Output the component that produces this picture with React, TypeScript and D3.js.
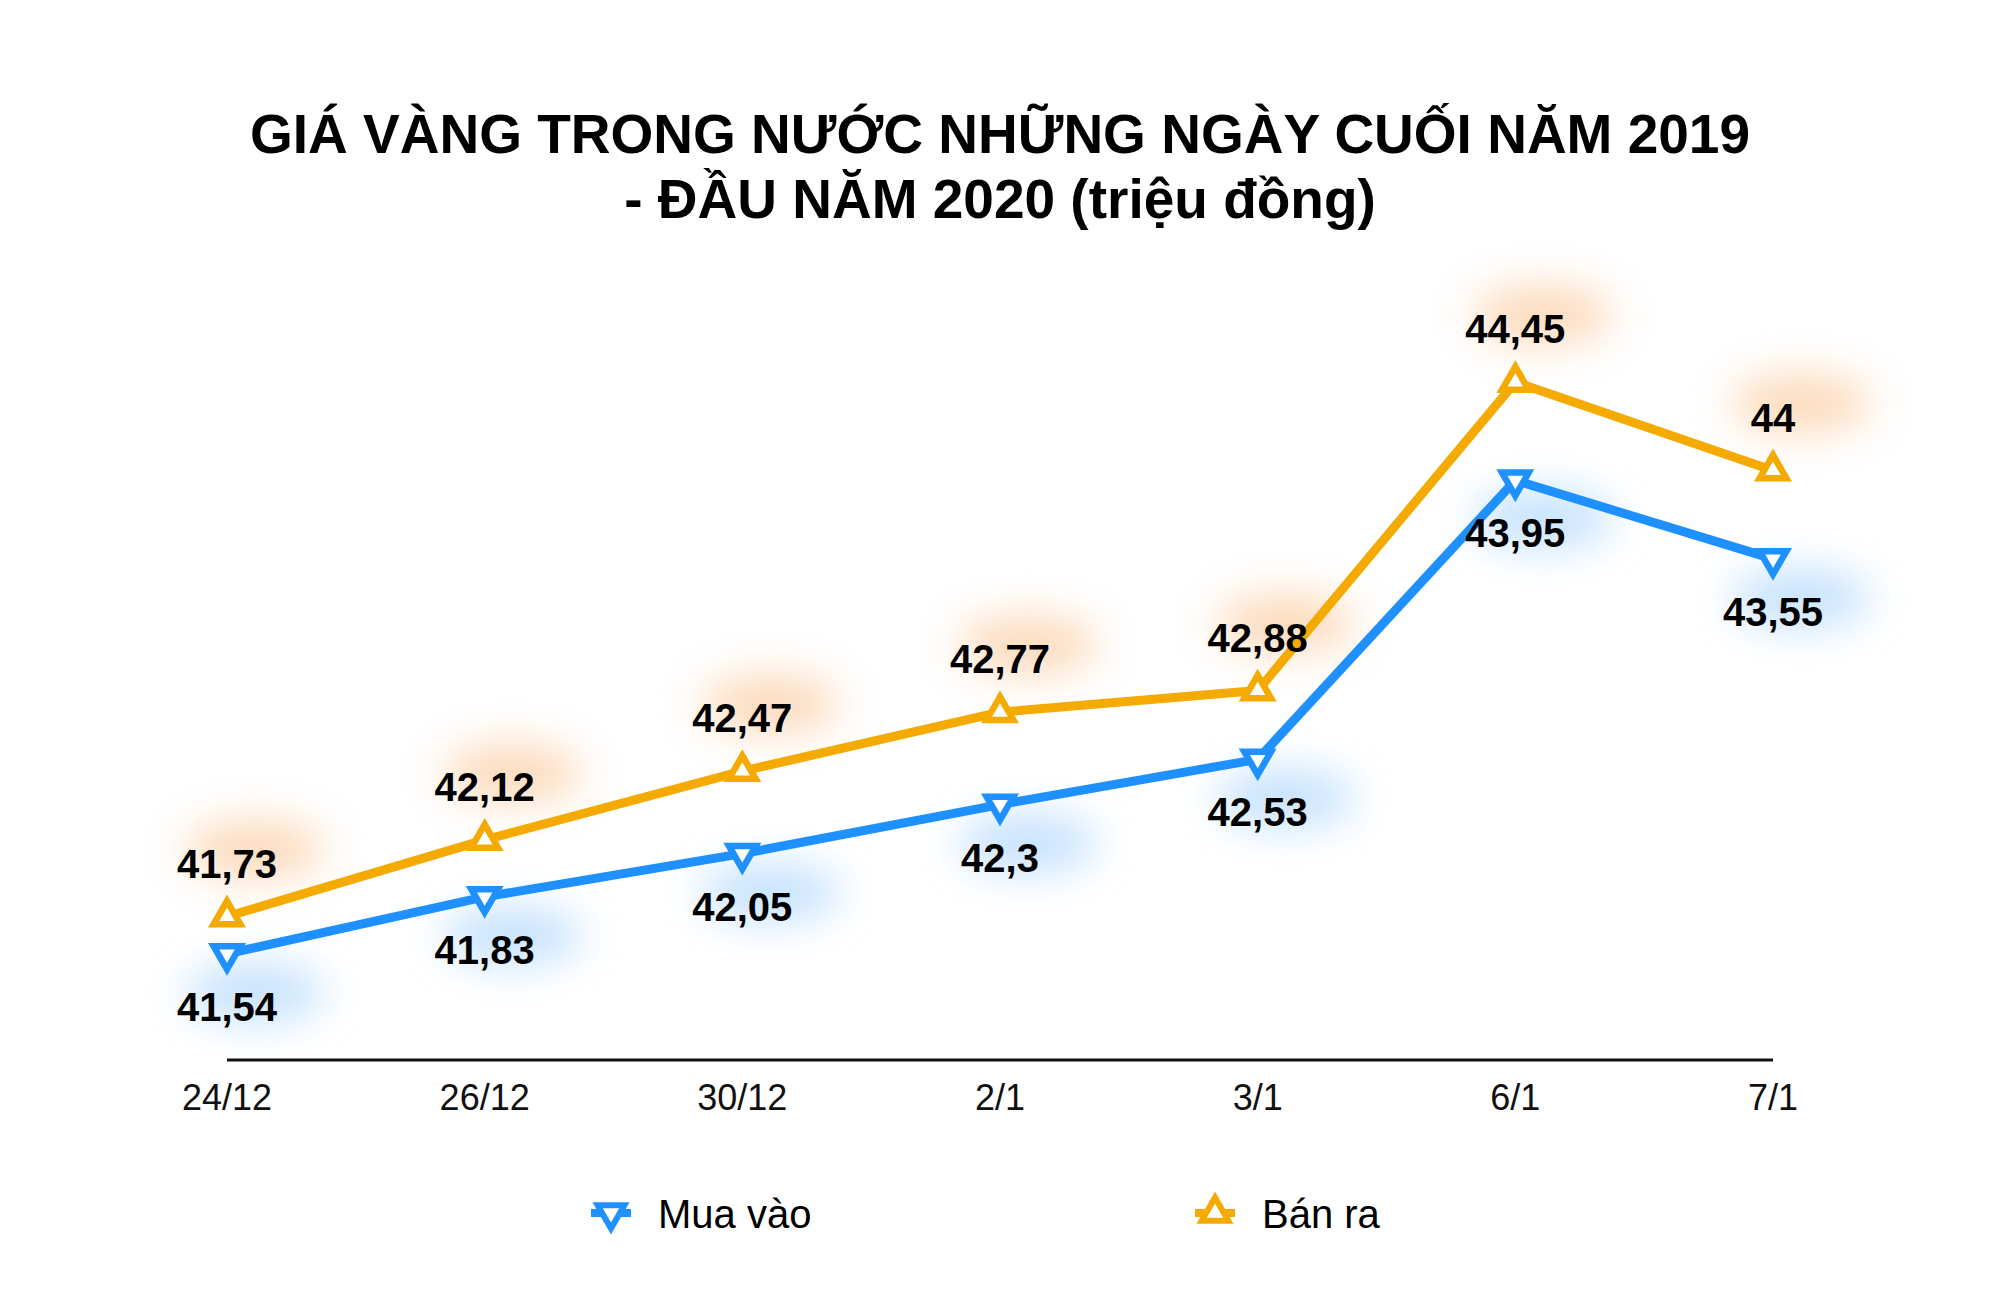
import * as d3 from "d3";

// ngày giao dịch và giá vàng (triệu đồng/lượng)
const dates = ["24/12", "26/12", "30/12", "2/1", "3/1", "6/1", "7/1"];
const muaVao = [41.54, 41.83, 42.05, 42.3, 42.53, 43.95, 43.55];
const banRa = [41.73, 42.12, 42.47, 42.77, 42.88, 44.45, 44];

const titleLines = [
    "GIÁ VÀNG TRONG NƯỚC NHỮNG NGÀY CUỐI NĂM 2019",
    "- ĐẦU NĂM 2020 (triệu đồng)"
];

const BLUE = "#1e90ff";
const ORANGE = "#f4aa00";
const FONT = "'Liberation Sans', Arial, Helvetica, sans-serif";

const W = 2000;
const H = 1302;

const formatVal = (v: number) => String(v).replace(".", ",");

type SeriesDef = {
    name: string;
    values: number[];
    color: string;
    glow: string;
    symbolRotate: number; // 180 = tam giác ngược
    labelDy: number;
    legendX: number;
};

const series: SeriesDef[] = [
    {name: "Mua vào", values: muaVao, color: BLUE, glow: "#b4d9fc", symbolRotate: 180, labelDy: 67, legendX: 611},
    {name: "Bán ra", values: banRa, color: ORANGE, glow: "#fbcfa6", symbolRotate: 0, labelDy: -39, legendX: 1215}
];

export default function App() {
    const x = d3.scalePoint<string>().domain(dates).range([227, 1773]);
    const y = d3.scaleLinear().domain([41, 45]).range([1060, 274]);

    const line = d3.line<number>()
        .x((_, i) => x(dates[i]) ?? 0)
        .y(v => y(v));

    const tri = d3.symbol().type(d3.symbolTriangle).size(310)() ?? "";

    return (
        <svg width={W} height={H} style={{position: "absolute", left: 0, top: 0, background: "#fff"}}>
            <defs>
                <filter id="glow" x="-80%" y="-120%" width="260%" height="340%">
                    <feGaussianBlur stdDeviation="20"/>
                </filter>
            </defs>

            {titleLines.map((t, i) => (
                <text key={i} x={1000} y={153 + i * 65} textAnchor="middle"
                      fontFamily={FONT} fontWeight="bold" fontSize={55} fill="#000">{t}</text>
            ))}

            {/* quầng màu sau nhãn giá trị */}
            {series.map(s => s.values.map((v, i) => (
                <ellipse key={`${s.name}-g${i}`} cx={(x(dates[i]) ?? 0) + 28} cy={y(v) + s.labelDy - 28}
                         rx={70} ry={30} fill={s.glow} opacity={0.75} filter="url(#glow)"/>
            )))}

            <line x1={x(dates[0])} x2={x(dates[dates.length - 1])} y1={y(41)} y2={y(41)}
                  stroke="#111" strokeWidth={3}/>

            {dates.map(d => (
                <text key={d} x={x(d)} y={1110} textAnchor="middle" fontFamily={FONT}
                      fontSize={36} fill="#111">{d}</text>
            ))}

            {series.map(s => (
                <g key={s.name}>
                    <path d={line(s.values) ?? ""} fill="none" stroke={s.color} strokeWidth={9}
                          strokeLinejoin="round"/>
                    {s.values.map((v, i) => (
                        <path key={i} d={tri}
                              transform={`translate(${x(dates[i])},${y(v)}) rotate(${s.symbolRotate})`}
                              fill="#fff" stroke={s.color} strokeWidth={6.5}/>
                    ))}
                    {s.values.map((v, i) => (
                        <text key={`l${i}`} x={x(dates[i])} y={y(v) + s.labelDy} textAnchor="middle"
                              fontFamily={FONT} fontWeight="bold" fontSize={40} fill="#000">{formatVal(v)}</text>
                    ))}
                </g>
            ))}

            {/* chú thích */}
            {series.map(s => (
                <g key={`lg-${s.name}`} transform={`translate(${s.legendX},1213)`}>
                    <line x1={-20} x2={20} y1={0} y2={0} stroke={s.color} strokeWidth={8}/>
                    <path d={tri} transform={`rotate(${s.symbolRotate})`} fill="#fff" stroke={s.color} strokeWidth={6}/>
                    <text x={47} y={15} fontFamily={FONT} fontSize={40} fill="#000">{s.name}</text>
                </g>
            ))}
        </svg>
    );
}
